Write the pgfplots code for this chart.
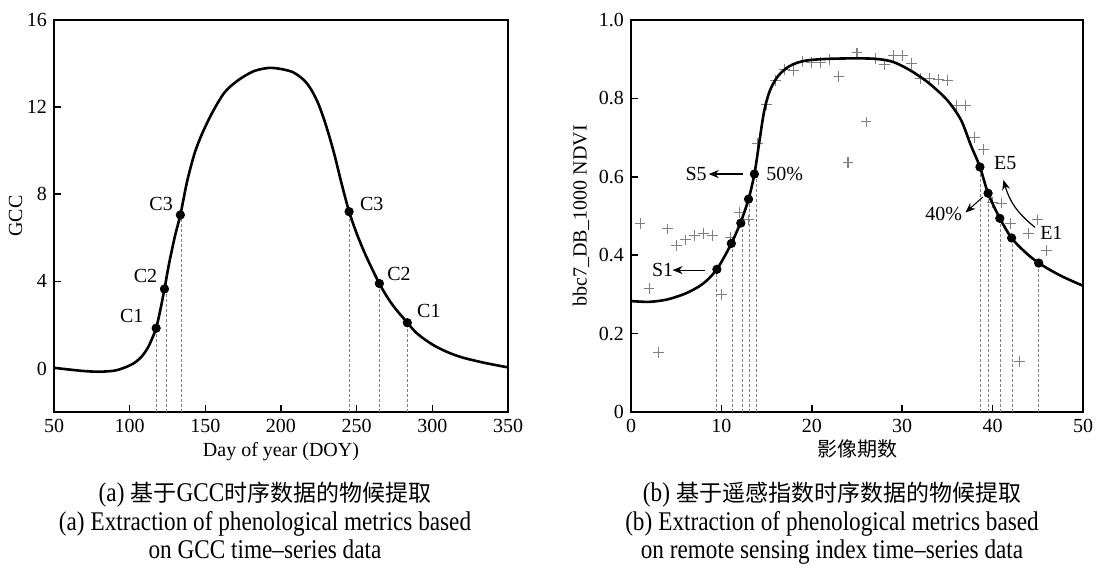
\documentclass[border=0pt]{standalone}
\usepackage{fontspec}
\setmainfont{Liberation Serif}
\newfontfamily\capfont[FakeStretch=0.86]{Liberation Serif}
\newfontfamily\cjk{Noto Sans CJK SC}
\usepackage{pgfplots}
\pgfplotsset{compat=1.18}
\usetikzlibrary{arrows.meta}

\pgfplotsset{
  panel/.style={
    scale only axis, height=196pt,
    axis line style={line width=0.9pt},
    tick style={black, line width=0.8pt},
    major tick length=3.5pt, tick align=inside,
    xtick pos=bottom, ytick pos=left,
    tick label style={font=\fontsize{10}{12}\selectfont},
    label style={font=\fontsize{10}{12}\selectfont},
    /pgf/number format/assume math mode=true,
    xlabel style={at={(axis description cs:0.5,0)}, anchor=base, yshift=-22pt},
    clip mode=individual,
    unbounded coords=jump,
  },
  drop/.style={gray, line width=0.5pt, dash pattern=on 1.5pt off 1pt},
  curve/.style={black, line width=1.3pt, smooth},
  dot/.style={only marks, mark=*, mark size=2.1pt, black},
}
\newcommand{\lbl}{\fontsize{10}{12}\selectfont}
\newcommand{\capL}{\fontsize{13.5}{15}\capfont}
\newcommand{\capC}{\fontsize{11.5}{14}\cjk}

\begin{document}
\begin{tikzpicture}
\path[use as bounding box] (0,-78.5pt) rectangle (548pt,206pt);

% (a) GCC
\begin{axis}[panel, name=L, at={(27pt,0)}, anchor=south west, width=227pt,
  xmin=50, xmax=350, ymin=-2, ymax=16,
  xtick={50,100,...,350}, ytick={0,4,8,12,16},
  xlabel={Day of year (DOY)}, ylabel={GCC},
  ylabel style={yshift=-4.5pt}]
\addplot[drop] coordinates {
  (117.5,-2) (117.5,1.85) (nan,nan)
  (124.3,-2) (124.3,3.9) (nan,nan)
  (134.3,-2) (134.3,7.05) (nan,nan)
  (245.5,-2) (245.5,7.2) (nan,nan)
  (265.2,-2) (265.2,3.9) (nan,nan)
  (283.7,-2) (283.7,2.1)
};
\addplot[curve] coordinates {
  (50,0.03) (60,-0.05) (70,-0.12) (80,-0.15) (90,-0.1) (97,0.05)
  (103,0.25) (108,0.55) (112,0.95) (115,1.4) (117.5,1.85) (120,2.6)
  (123,3.65) (126,4.8) (130,6.1) (133.5,7.05) (138,8.6) (143,9.9)
  (148,10.8) (155,11.8) (163,12.7) (172,13.25) (182,13.65) (192,13.8)
  (200,13.75) (208,13.6) (215,13.25) (220,12.8) (225,12.1) (230,11.1)
  (235,9.9) (240,8.5) (245,7.2) (250,6.2) (255,5.35) (260,4.6)
  (265,3.9) (270,3.3) (275,2.8) (283.5,2.1) (290,1.6) (300,1.1)
  (310,0.75) (320,0.5) (335,0.25) (350,0.05)
};
\addplot[dot] coordinates {
  (117.5,1.85) (123,3.65) (133.5,7.05) (245,7.2) (265,3.9) (283.5,2.1)
};
\node[font=\lbl] at (axis cs:101.4,2.4) {C1};
\node[font=\lbl] at (axis cs:110.5,4.25) {C2};
\node[font=\lbl] at (axis cs:120.8,7.55) {C3};
\node[font=\lbl] at (axis cs:260,7.55) {C3};
\node[font=\lbl] at (axis cs:278,4.35) {C2};
\node[font=\lbl] at (axis cs:297.7,2.65) {C1};
\end{axis}

% (b) NDVI
\begin{axis}[panel, name=R, at={(315.5pt,0)}, anchor=south west, width=226pt,
  xmin=0, xmax=50, ymin=0, ymax=1,
  xtick={0,10,...,50}, ytick={0,0.2,0.4,0.6,0.8,1.0},
  yticklabels={0,0.2,0.4,0.6,0.8,1.0},
  xlabel={\cjk 影像期数}, ylabel={bbc7\_DB\_1000 NDVI},
  ylabel style={yshift=-2pt}]
\addplot[drop] coordinates {
  (9.48,0) (9.48,0.364) (nan,nan)
  (11.24,0) (11.24,0.43) (nan,nan)
  (12.29,0) (12.29,0.482) (nan,nan)
  (13.08,0) (13.08,0.543) (nan,nan)
  (13.86,0) (13.86,0.607) (nan,nan)
  (38.65,0) (38.65,0.625) (nan,nan)
  (39.55,0) (39.55,0.558) (nan,nan)
  (40.88,0) (40.88,0.494) (nan,nan)
  (42.17,0) (42.17,0.444) (nan,nan)
  (45.1,0) (45.1,0.38)
};
\addplot[only marks, mark=+, mark size=2.7pt, gray, mark options={line width=0.55pt}] coordinates {
  (1,0.48) (2,0.316) (3,0.151) (4,0.467) (5,0.424) (6,0.439) (7,0.45)
  (8,0.456) (9,0.45) (10,0.299) (11,0.445) (12,0.509) (13,0.49)
  (14,0.684) (15,0.785) (16,0.846) (17,0.874) (18,0.872) (19,0.895)
  (20,0.891) (21,0.891) (22,0.899) (23,0.855) (24,0.636) (25,0.916)
  (26,0.74) (27,0.902) (28,0.886) (29,0.91) (30,0.91) (31,0.889)
  (32,0.851) (33,0.851) (34,0.848) (35,0.845) (36,0.782) (37,0.782)
  (38,0.701) (39,0.669) (40,0.535) (41,0.533) (42,0.48) (43,0.128)
  (44,0.455) (45,0.49) (46,0.412)
};
\addplot[curve] coordinates {
  (0,0.283) (2,0.281) (4,0.287) (6,0.302) (7.5,0.32) (8.5,0.338)
  (9.5,0.364) (10.3,0.395) (11.1,0.43) (12.1,0.482) (13.0,0.543)
  (13.65,0.607) (14.2,0.69) (14.75,0.77) (15.4,0.822) (16.3,0.858)
  (17.5,0.882) (19,0.895) (21,0.9) (24,0.902) (27,0.901) (29,0.893)
  (31,0.87) (33,0.838) (35,0.795) (36.5,0.745) (37.6,0.68) (38.6,0.625)
  (39.5,0.558) (40.8,0.494) (42.1,0.444) (43.5,0.41) (45.1,0.38)
  (47.5,0.348) (50,0.322)
};
\addplot[dot] coordinates {
  (9.5,0.364) (11.1,0.43) (12.15,0.482) (13.0,0.543) (13.65,0.607)
  (38.6,0.625) (39.5,0.558) (40.8,0.494) (42.1,0.444) (45.1,0.38)
};
\node[font=\lbl] at (axis cs:7.2,0.607) {S5};
\draw[line width=0.6pt, -{Stealth[length=5pt,width=4pt]}] (axis cs:12.4,0.607) -- (axis cs:8.6,0.607);
\node[font=\lbl] at (axis cs:17.0,0.607) {50\%};
\node[font=\lbl] at (axis cs:3.5,0.362) {S1};
\draw[line width=0.6pt, -{Stealth[length=5pt,width=4pt]}] (axis cs:8.2,0.362) -- (axis cs:4.6,0.362);
\node[font=\lbl] at (axis cs:41.4,0.634) {E5};
\node[font=\lbl] at (axis cs:34.6,0.505) {40\%};
\draw[line width=0.5pt, -{Stealth[length=5pt,width=4pt]}] (axis cs:38.9,0.548) -- (axis cs:37.0,0.509);
\node[font=\lbl] at (axis cs:46.5,0.456) {E1};
\draw[line width=0.6pt, -{Stealth[length=5pt,width=4pt]}] (axis cs:44.7,0.471) to[bend left=18] (axis cs:41.2,0.592);
\end{axis}

% captions
\node[anchor=base] at (132.5pt,-44.5pt) {\capL (a)\hspace{3pt}\capC 基于\capL GCC\capC 时序数据的物候提取};
\node[anchor=base] at (132.5pt,-59.3pt) {\capL (a)\hspace{3pt}Extraction of phenological metrics based};
\node[anchor=base] at (132.5pt,-73.2pt) {\capL on GCC time–series data};
\node[anchor=base] at (416pt,-44.5pt) {\capL (b)\hspace{3pt}\capC 基于遥感指数时序数据的物候提取};
\node[anchor=base] at (416pt,-59.3pt) {\capL (b)\hspace{3pt}Extraction of phenological metrics based};
\node[anchor=base] at (416pt,-73.2pt) {\capL on remote sensing index time–series data};
\end{tikzpicture}
\end{document}
